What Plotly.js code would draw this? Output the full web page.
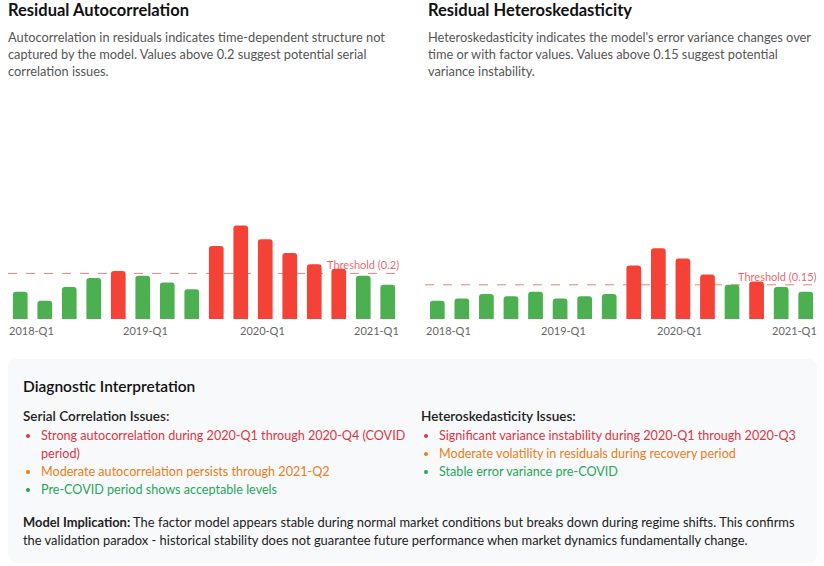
<!DOCTYPE html>
<html>
<head>
<meta charset="utf-8">
<script src="https://cdn.plot.ly/plotly-3.0.1.min.js"></script>
<style>
  html, body { margin: 0; padding: 0; background: #ffffff; }
  body { width: 824px; height: 566px; position: relative; overflow: hidden;
         font-family: Lato, "Noto Sans", sans-serif; color: #222; }
  .title { position: absolute; top: 0; font-size: 16.5px; font-weight: 700; line-height: 20px; color: #111; white-space: nowrap; }
  .desc { position: absolute; top: 29px; font-size: 12.8px; line-height: 17px; color: #555; white-space: nowrap; }
  .chart { position: absolute; top: 91px; height: 248px; }
  .box { position: absolute; left: 8px; top: 359px; width: 809px; height: 204px; background: #f8f9fa;
         border-radius: 8px; box-sizing: border-box; padding: 16px 15px 14px 15px; }
  .box h3 { margin: 0; font-size: 15.5px; line-height: 22px; font-weight: 600; color: #111; }
  .cols { display: grid; grid-template-columns: 380px 380px; column-gap: 18px; margin-top: 10px; }
  .sub { font-size: 13.5px; line-height: 18px; font-weight: 600; color: #222; }
  .box ul { margin: 2px 0 0 0; padding-left: 18px; font-size: 12.6px; line-height: 18px; white-space: nowrap; }
  .red { color: #dc3545; }
  .orange { color: #e67e22; }
  .green { color: #27a55a; }
  .impl { margin-top: 14px; font-size: 12.9px; line-height: 18px; color: #222; white-space: nowrap; }
</style>
</head>
<body>
<div class="title" style="left:8px;">Residual Autocorrelation</div>
<div class="desc" style="left:8px;">Autocorrelation in residuals indicates time-dependent structure not<br>captured by the model. Values above 0.2 suggest potential serial<br>correlation issues.</div>
<div class="title" style="left:428px;">Residual Heteroskedasticity</div>
<div class="desc" style="left:428px;">Heteroskedasticity indicates the model's error variance changes over<br>time or with factor values. Values above 0.15 suggest potential<br>variance instability.</div>

<div id="chart1" class="chart" style="left:8px; width:392px;"></div>
<div id="chart2" class="chart" style="left:425px; width:393px;"></div>

<div class="box">
  <h3>Diagnostic Interpretation</h3>
  <div class="cols">
    <div>
      <div class="sub">Serial Correlation Issues:</div>
      <ul>
        <li class="red">Strong autocorrelation during 2020-Q1 through 2020-Q4 (COVID<br>period)</li>
        <li class="orange">Moderate autocorrelation persists through 2021-Q2</li>
        <li class="green">Pre-COVID period shows acceptable levels</li>
      </ul>
    </div>
    <div>
      <div class="sub">Heteroskedasticity Issues:</div>
      <ul>
        <li class="red">Significant variance instability during 2020-Q1 through 2020-Q3</li>
        <li class="orange">Moderate volatility in residuals during recovery period</li>
        <li class="green">Stable error variance pre-COVID</li>
      </ul>
    </div>
  </div>
  <div class="impl"><b>Model Implication:</b> The factor model appears stable during normal market conditions but breaks down during regime shifts. This confirms<br>the validation paradox - historical stability does not guarantee future performance when market dynamics fundamentally change.</div>
</div>

<script>
const categories = ['2018-Q1','2018-Q2','2018-Q3','2018-Q4','2019-Q1','2019-Q2','2019-Q3','2019-Q4',
                    '2020-Q1','2020-Q2','2020-Q3','2020-Q4','2021-Q1','2021-Q2','2021-Q3','2021-Q4'];
const autocorrelation = [0.12, 0.08, 0.14, 0.18, 0.21, 0.19, 0.16, 0.13, 0.32, 0.41, 0.35, 0.29, 0.24, 0.22, 0.19, 0.15];
const heteroskedasticity = [0.08, 0.09, 0.11, 0.10, 0.12, 0.09, 0.10, 0.11, 0.235, 0.31, 0.265, 0.195, 0.15, 0.165, 0.14, 0.12];
const autoThreshold = 0.2;
const heteroThreshold = 0.15;
const tickLabels = ['2018-Q1', '2019-Q1', '2020-Q1', '2021-Q1'];

const GREEN = '#4caf50', RED = '#f44336';

function draw(id, values, threshold, thresholdText) {
  const colors = values.map(v => v > threshold ? RED : GREEN);
  const labelW = 0.107;
  const n = tickLabels.length;
  const labelAnns = tickLabels.map((t, i) => {
    let x = labelW / 2 + i * (1 - labelW) / (n - 1), xa = 'center';
    if (i === 0) { x = 0; xa = 'left'; }
    if (i === n - 1) { x = 1; xa = 'right'; }
    return {
      text: t, xref: 'paper', yref: 'paper', x: x, y: 0,
      xanchor: xa, yanchor: 'middle', yshift: -11, showarrow: false, borderpad: 0,
      font: { family: 'Lato, sans-serif', size: 11, color: '#666' }
    };
  });
  const layout = {
    width: document.getElementById(id).offsetWidth, height: 248,
    margin: { l: 0, r: 0, t: 0, b: 20 },
    paper_bgcolor: 'rgba(0,0,0,0)', plot_bgcolor: 'rgba(0,0,0,0)',
    bargap: 0.4, showlegend: false,
    xaxis: { type: 'category', visible: false, fixedrange: true },
    yaxis: { range: [0, 1], visible: false, fixedrange: true },
    shapes: [{ type: 'line', xref: 'paper', x0: 0, x1: 1, yref: 'y', y0: threshold, y1: threshold,
               line: { color: 'rgba(210,90,90,0.75)', width: 1, dash: 'dash' }, layer: 'below' }],
    annotations: labelAnns.concat([{
      text: thresholdText, xref: 'paper', x: 1, xanchor: 'right', yref: 'y', y: threshold,
      yanchor: 'bottom', yshift: 1, showarrow: false, borderpad: 0,
      font: { family: 'Lato, sans-serif', size: 11, color: 'rgba(232,70,80,0.85)' }
    }])
  };
  Plotly.newPlot(id, [{
    type: 'bar', x: categories, y: values,
    marker: { color: colors, cornerradius: 3 },
    hoverinfo: 'x+y'
  }], layout, { displayModeBar: false, staticPlot: true });
}

draw('chart1', autocorrelation, autoThreshold, 'Threshold (0.2)');
draw('chart2', heteroskedasticity, heteroThreshold, 'Threshold (0.15)');
</script>
</body>
</html>
